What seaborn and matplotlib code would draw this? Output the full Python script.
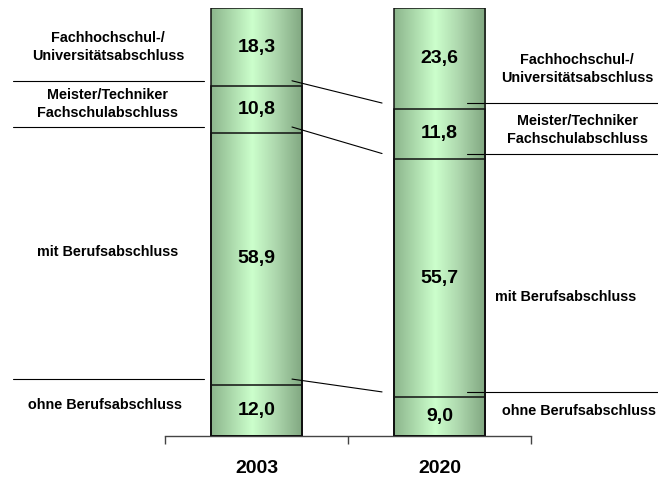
import numpy as np
import pandas as pd
import matplotlib.pyplot as plt
import seaborn as sns
from matplotlib.colors import LinearSegmentedColormap

# data (Anteile in %)
years = ["2003", "2020"]
categories = [
    "ohne Berufsabschluss",
    "mit Berufsabschluss",
    "Meister/Techniker\nFachschulabschluss",
    "Fachhochschul-/\nUniversitätsabschluss",
]
share_2003 = [12.0, 58.9, 10.8, 18.3]
share_2020 = [9.0, 55.7, 11.8, 23.6]

df = pd.DataFrame({
    "Jahr": np.repeat(years, len(categories)),
    "Abschluss": categories * 2,
    "Anteil": share_2003 + share_2020,
})
df["kumuliert"] = df.groupby("Jahr")["Anteil"].cumsum()

sns.set_style("white")
plt.rcParams["font.family"] = ["Liberation Sans", "DejaVu Sans"]
plt.rcParams["text.color"] = "black"
plt.rcParams["xtick.labelcolor"] = "black"

W, H = 658, 479
fig = plt.figure(figsize=(W / 100, H / 100), dpi=100)
ax = fig.add_axes([165 / W, 43 / H, 366 / W, 428.4 / H])

# stacked bars: draw cumulative totals from top segment down
for cat in reversed(categories):
    sub = df[df["Abschluss"] == cat]
    sns.barplot(data=sub, x="Jahr", y="kumuliert", order=years, width=0.5,
                color="white", errorbar=None, ax=ax)

for p in ax.patches:
    p.set_facecolor("none")
    p.set_edgecolor("#111111")
    p.set_linewidth(1.1)
    p.set_zorder(3)

# cylinder-like green gradient
cmap = LinearSegmentedColormap.from_list(
    "gruen", [(0, "#8cb58c"), (0.45, "#ccffcc"), (0.7, "#aed8ae"), (1, "#80a680")])
grad = np.linspace(0, 1, 256)[None, :]
for i, yr in enumerate(years):
    total = df.loc[df["Jahr"] == yr, "Anteil"].sum()
    ax.imshow(grad, extent=[i - 0.25, i + 0.25, 0, total], aspect="auto",
              cmap=cmap, zorder=1)

ax.set_xlim(-0.5, 1.5)
ax.set_ylim(0, 100.1)

# value labels
for i, yr in enumerate(years):
    sub = df[df["Jahr"] == yr]
    for v, c in zip(sub["Anteil"], sub["kumuliert"]):
        ax.text(i, c - v / 2, f"{v:.1f}".replace(".", ","), ha="center",
                va="center", fontsize=14, fontweight="bold", zorder=4)

# connector and label lines
cum03 = df.loc[df["Jahr"] == "2003", "kumuliert"].values[:3]
cum20 = df.loc[df["Jahr"] == "2020", "kumuliert"].values[:3]
for a, b in zip(cum03, cum20):
    y0, y1 = a + 1.3, b + 1.3
    ax.plot([0.194, 0.686], [y0, y1], color="black", lw=0.8, clip_on=False, zorder=5)
    ax.plot([-1.33, -0.287], [y0, y0], color="black", lw=0.8, clip_on=False)
    ax.plot([1.15, 2.2], [y1, y1], color="black", lw=0.8, clip_on=False)

# axis styling
sns.despine(ax=ax, left=True)
ax.spines["bottom"].set_color("#444444")
ax.spines["bottom"].set_linewidth(1.0)
ax.set_yticks([])
ax.set_xlabel("")
ax.set_ylabel("")
ax.set_xticks([-0.5, 0.5, 1.5], minor=True)
ax.tick_params(axis="x", which="minor", bottom=True, length=6, width=1,
               color="#444444", direction="out")
ax.tick_params(axis="x", which="major", length=0, pad=17, labelsize=14)
for t in ax.get_xticklabels():
    t.set_fontweight("bold")

# category labels left and right
left_pos = [(105, 405), (108, 252), (108, 104), (108, 47)]
right_pos = [(579, 411), (566, 297), (577, 130), (577, 69)]
for cat, (lx, ly), (rx, ry) in zip(categories, left_pos, right_pos):
    fig.text(lx / W, 1 - ly / H, cat, ha="center", va="center", fontsize=10.4,
             fontweight="bold", linespacing=1.3)
    fig.text(rx / W, 1 - ry / H, cat, ha="center", va="center", fontsize=10.4,
             fontweight="bold", linespacing=1.3)

fig.savefig("out.png", dpi=100)
